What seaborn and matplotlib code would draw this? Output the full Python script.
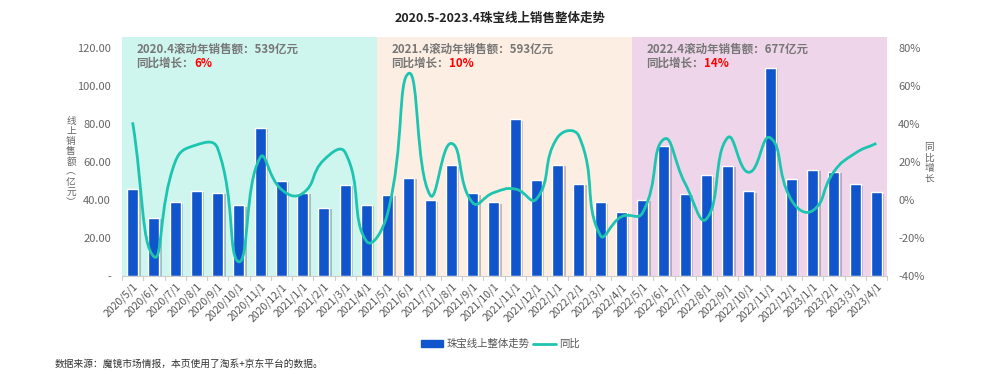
import numpy as np
import pandas as pd
import matplotlib
matplotlib.use("Agg")
import matplotlib.pyplot as plt
import matplotlib.patheffects as pe
from matplotlib.path import Path
from matplotlib.patches import PathPatch, Patch
from matplotlib.lines import Line2D
import seaborn as sns

# data
months = [f"{y}/{m}/1" for y, m in
          [(2020, m) for m in range(5, 13)] + [(2021, m) for m in range(1, 13)] +
          [(2022, m) for m in range(1, 13)] + [(2023, m) for m in range(1, 5)]]
sales = [45.6, 30.5, 38.8, 44.7, 43.7, 37.2, 77.9, 50.0, 43.7, 36.0, 47.9, 37.4,
         42.8, 51.8, 39.8, 58.2, 43.5, 38.8, 82.4, 50.7, 58.6, 48.4, 38.9, 33.9,
         40.0, 68.6, 43.2, 53.0, 58.1, 44.6, 109.5, 51.2, 55.8, 54.9, 48.2, 44.0]
yoy = [40.9, -29.8, 20.0, 29.0, 27.2, -32.5, 22.3, 5.6, 3.5, 21.1, 25.1, -21.6,
       -7.0, 66.7, 2.6, 29.8, -1.4, 3.9, 5.8, 0.5, 33.0, 33.7, -18.4, -8.8,
       -6.7, 32.0, 8.7, -10.0, 32.8, 14.6, 32.8, 0.0, -5.6, 14.9, 24.6, 29.8]
period_labels = ["2020.4", "2021.4", "2022.4"]
period_totals = [539, 593, 677]
period_growth = ["6%", "10%", "14%"]
period_colors = ["#cff5ef", "#fdeee4", "#efd5ea"]

bar_color = "#1155cc"
line_color = "#1dc5b0"
grey = "#666666"

sns.set_theme(style="white")
plt.rcParams["font.family"] = ["Noto Sans CJK SC", "DejaVu Sans"]

fig = plt.figure(figsize=(10, 3.74), dpi=100)
ax = fig.add_axes([0.122, 0.262, 0.765, 0.639])
ax2 = ax.twinx()

df = pd.DataFrame({"month": months, "sales": sales})
sns.barplot(data=df, x="month", y="sales", color=bar_color, saturation=1,
            width=0.52, ax=ax, zorder=2)
for p in ax.patches:
    p.set_path_effects([pe.SimplePatchShadow(offset=(1.8, -1), shadow_rgbFace="#555555", alpha=0.35),
                        pe.Normal()])

ax.set_xlim(-0.5, len(months) - 0.5)
ax.set_ylim(0, 125.8)
ax2.set_ylim(-40, 85.8)

# background bands, one per rolling year
for k, c in enumerate(period_colors):
    ax.axvspan(12 * k - 0.5, 12 * k + 11.5, color=c, lw=0, zorder=0)
    x0 = 12 * k - 0.5 + 0.68
    ax.text(x0, 122.5, f"{period_labels[k]}滚动年销售额：{period_totals[k]}亿元",
            fontsize=8.3, fontweight="bold", color="#777777", va="top", ha="left")
    t = ax.text(x0, 115.2, "同比增长：", fontsize=8.3, fontweight="bold",
                color="#777777", va="top", ha="left")
    ax.annotate(period_growth[k], xy=(1, 0), xycoords=t, va="bottom", ha="left",
                fontsize=8.3, fontweight="bold", color="#ff0000")


# smooth line like echarts (cubic bezier through every point)
def smooth_path(xs, ys, smooth=0.5, sx=21.25, sy=1.9):
    P = np.column_stack([xs, ys]).astype(float)
    S = P * [sx, sy]
    n = len(P)
    cp_in, cp_out = [], []
    for i in range(n):
        prev = S[max(i - 1, 0)]
        nxt = S[min(i + 1, n - 1)]
        v = nxt - prev
        d0 = np.linalg.norm(S[i] - prev)
        d1 = np.linalg.norm(nxt - S[i])
        tot = d0 + d1
        r0, r1 = (d0 / tot, d1 / tot) if tot > 0 else (0, 0)
        cp_in.append((S[i] - v * smooth * r0) / [sx, sy])
        cp_out.append((S[i] + v * smooth * r1) / [sx, sy])
    verts = [P[0]]
    codes = [Path.MOVETO]
    for i in range(n - 1):
        verts += [cp_out[i], cp_in[i + 1], P[i + 1]]
        codes += [Path.CURVE4] * 3
    return Path(verts, codes)


ax2.add_patch(PathPatch(smooth_path(np.arange(len(yoy)), yoy), fill=False,
                        edgecolor=line_color, lw=2, zorder=3))

ax.set_yticks([0, 20, 40, 60, 80, 100, 120])
ax.set_yticklabels(["-"] + [f"{v:.2f}" for v in [20, 40, 60, 80, 100, 120]])
ax2.set_yticks([-40, -20, 0, 20, 40, 60, 80])
ax2.set_yticklabels([f"{v}%" for v in [-40, -20, 0, 20, 40, 60, 80]])
ax.tick_params(axis="y", length=0, labelsize=8, colors=grey, pad=8)
ax2.tick_params(axis="y", length=0, labelsize=8, colors=grey, pad=8)

ax.set_xticks(np.arange(len(months)))
ax.set_xticklabels(months, rotation=45, ha="right", rotation_mode="anchor")
ax.tick_params(axis="x", length=0, labelsize=7.5, colors="#555555", pad=4)
for b in np.arange(-0.5, len(months), 1):
    ax.plot([b, b], [0, -2.2], color="#cccccc", lw=0.8, clip_on=False, zorder=4)
ax.set_xlabel("")
ax.set_ylabel("")

for a in (ax, ax2):
    for s in ["top", "left", "right"]:
        a.spines[s].set_visible(False)
ax2.spines["bottom"].set_visible(False)
ax.spines["bottom"].set_color("#cccccc")
ax.spines["bottom"].set_linewidth(0.8)

# vertical axis titles, one character per row
for i, ch in enumerate("线上销售额︵亿元︶"):
    fig.text(0.071, 1 - (121 + 10.1 * i) / 374, ch, fontsize=7, color=grey,
             ha="center", va="center")
for i, ch in enumerate("同比增长"):
    fig.text(0.929, 1 - (147 + 10.5 * i) / 374, ch, fontsize=7, color=grey,
             ha="center", va="center")

fig.text(0.5, 0.952, "2020.5-2023.4珠宝线上销售整体走势", fontsize=9, fontweight="bold",
         color="#222222", ha="center", va="center")

handles = [Patch(color=bar_color), Line2D([0], [0], color=line_color, lw=2)]
fig.legend(handles, ["珠宝线上整体走势", "同比"], loc="center", bbox_to_anchor=(0.5, 0.08),
           ncol=2, frameon=False, fontsize=7.5, handlelength=2.2, handleheight=0.6,
           columnspacing=0.3, handletextpad=0.3, labelcolor="#555555")

fig.text(0.055, 0.027, "数据来源：魔镜市场情报，本页使用了淘系+京东平台的数据。", fontsize=7,
         color="#333333", ha="left", va="center")

fig.savefig("out.png", dpi=100)
